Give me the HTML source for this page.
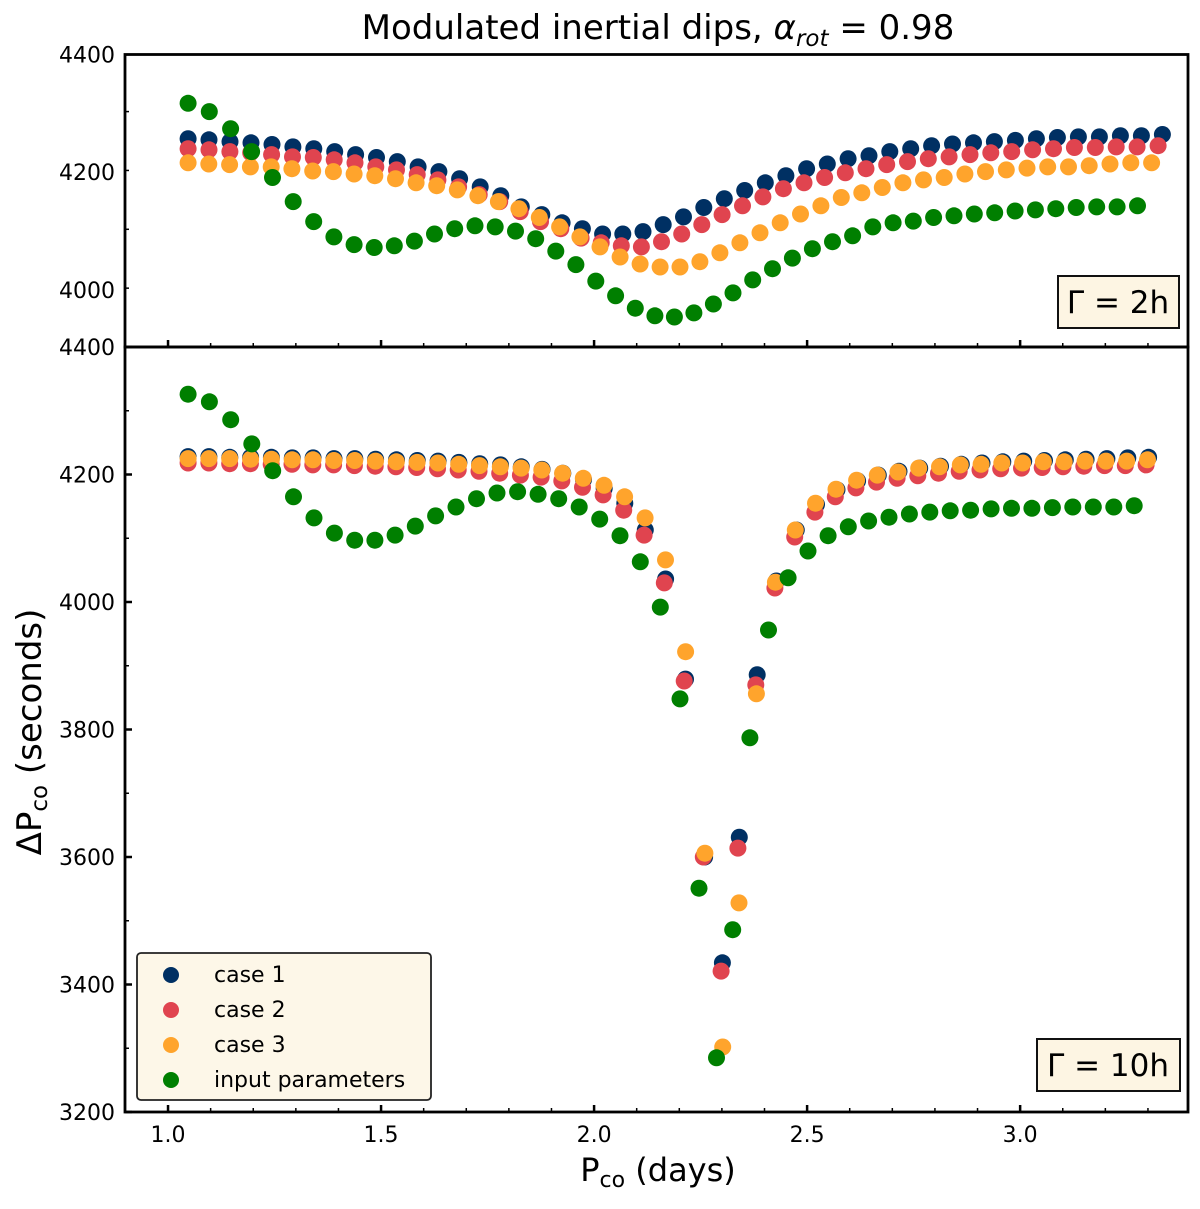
<!DOCTYPE html>
<html><head><meta charset="utf-8"><style>
body{margin:0;background:#fff;}
svg{display:block;font-family:"DejaVu Sans","Liberation Sans",sans-serif;}
</style></head><body>
<svg id="chart" width="1200" height="1209" viewBox="0 0 1200 1209" xmlns="http://www.w3.org/2000/svg">
<text x="658" y="39" font-size="34" text-anchor="middle">Modulated inertial dips, <tspan font-style="italic">α</tspan><tspan font-style="italic" font-size="23" dy="7">rot</tspan><tspan dy="-7"> = 0.98</tspan></text>
<g id="plots"></g>
<text transform="translate(41,732) rotate(-90)" font-size="34" text-anchor="middle">ΔP<tspan font-size="23" dy="6">co</tspan><tspan dy="-6"> (seconds)</tspan></text>
<text x="658" y="1181" font-size="32" text-anchor="middle">P<tspan font-size="22" dy="6">co</tspan><tspan dy="-6"> (days)</tspan></text>
<g>
<rect x="137" y="953" width="294" height="147" rx="4" fill="#fdf7e8" stroke="#222" stroke-width="1.8"/>
<circle cx="171" cy="975" r="8" fill="#003063"/><text x="214" y="982" font-size="22">case 1</text>
<circle cx="171" cy="1010" r="8" fill="#e0444f"/><text x="214" y="1017" font-size="22">case 2</text>
<circle cx="171" cy="1045" r="8" fill="#ffa42c"/><text x="214" y="1052" font-size="22">case 3</text>
<circle cx="171" cy="1080" r="8" fill="#007f00"/><text x="214" y="1087" font-size="22">input parameters</text>
</g>
<g><rect x="1058" y="276" width="121" height="52" fill="#fdf5e3" stroke="#111" stroke-width="2"/><text x="1118" y="313" font-size="31" text-anchor="middle">Γ = 2h</text></g>
<g><rect x="1037" y="1039" width="143" height="52" fill="#fdf5e3" stroke="#111" stroke-width="2"/><text x="1108" y="1076" font-size="31" text-anchor="middle">Γ = 10h</text></g>
</svg>
<script>
const startPeriod = 1.047;
const colors = ["#003063", "#e0444f", "#ffa42c", "#007f00"];
const seriesNames = ["case-1", "case-2", "case-3", "input-parameters"];
const xTicks = [1.0, 1.5, 2.0, 2.5, 3.0];
const xTickLabels = ["1.0", "1.5", "2.0", "2.5", "3.0"];
const topYTicks = [4000, 4200, 4400];
const botYTicks = [3200, 3400, 3600, 3800, 4000, 4200, 4400];
const top_case1 = [4257,4255,4252,4250,4247,4243,4240,4235,4230,4225,4218,4209,4201,4189,4175,4160,4141,4128,4114,4104,4095,4095,4099,4111,4124,4140,4155,4169,4182,4194,4206,4214,4223,4228,4235,4240,4245,4248,4250,4252,4254,4257,4259,4260,4260,4262,4262,4264];
const top_case2 = [4240,4238,4235,4233,4230,4226,4225,4221,4216,4209,4204,4196,4187,4175,4162,4150,4133,4116,4104,4088,4080,4075,4073,4082,4095,4111,4128,4143,4158,4172,4182,4191,4199,4206,4213,4218,4223,4226,4230,4233,4235,4238,4240,4242,4242,4243,4243,4245];
const top_case3 = [4216,4214,4213,4209,4209,4206,4202,4201,4197,4194,4189,4182,4177,4170,4160,4150,4138,4123,4107,4090,4073,4056,4044,4039,4039,4048,4063,4080,4097,4114,4129,4143,4157,4165,4174,4182,4187,4191,4197,4201,4204,4207,4209,4209,4211,4214,4216,4216];
const top_input = [4317,4303,4274,4235,4191,4150,4116,4090,4077,4072,4075,4083,4095,4104,4109,4107,4100,4087,4066,4043,4015,3990,3969,3956,3954,3961,3976,3995,4017,4036,4054,4070,4082,4092,4107,4114,4117,4123,4126,4129,4131,4134,4136,4138,4140,4141,4141,4143];
const bot_case1 = [4228,4228,4227,4227,4227,4226,4226,4225,4225,4224,4223,4222,4221,4219,4217,4215,4212,4208,4202,4192,4178,4155,4113,4036,3879,3600,3434,3631,3886,4033,4113,4153,4176,4190,4199,4205,4210,4213,4216,4218,4220,4221,4222,4223,4224,4225,4226,4227];
const bot_case2 = [4218,4218,4217,4217,4216,4216,4215,4215,4214,4213,4212,4211,4209,4207,4205,4202,4199,4196,4190,4180,4168,4144,4105,4030,3876,3600,3421,3614,3870,4022,4102,4141,4165,4179,4188,4194,4198,4202,4205,4207,4209,4210,4211,4212,4213,4214,4214,4215];
const bot_case3 = [4225,4225,4225,4224,4224,4223,4223,4222,4222,4221,4220,4219,4218,4216,4214,4212,4210,4207,4202,4194,4183,4165,4132,4066,3922,3606,3302,3528,3856,4031,4113,4155,4177,4191,4199,4204,4210,4212,4215,4216,4218,4218,4220,4220,4221,4221,4221,4223];
const bot_input = [4326,4314,4286,4248,4206,4165,4132,4108,4097,4097,4105,4119,4135,4149,4162,4171,4173,4169,4162,4149,4130,4104,4063,3992,3848,3551,3285,3486,3787,3956,4038,4080,4104,4118,4127,4133,4138,4141,4143,4144,4146,4147,4147,4148,4149,4149,4149,4151];

const NS = "http://www.w3.org/2000/svg";
const root = document.getElementById("plots");
const X0 = 125, X1 = 1188;
const xMin = 0.899, xMax = 3.394;
function xs(v){ return X0 + (v - xMin) / (xMax - xMin) * (X1 - X0); }
function mk(tag, attrs, parent){ const e = document.createElementNS(NS, tag); for (const k in attrs) e.setAttribute(k, attrs[k]); parent.appendChild(e); return e; }

function drawPanel(name, yTop, yBot, vMin, vMax, ticks, series){
  const g = mk("g", {}, root);
  
  
  const ys = v => yBot - (v - vMin) / (vMax - vMin) * (yBot - yTop);
  series.forEach((vals, si) => {
    const sg = mk("g", {fill: colors[si]}, g);
    
    
    let p = startPeriod;
    vals.forEach(v => {
      const c = mk("circle", {cx: xs(p).toFixed(1), cy: ys(v).toFixed(1), r: 8.5}, sg);
      
      
      p += v / 86400;
    });
  });
  for (let t = 10; t <= 33; t++) {
    const v = t / 10, x = xs(v), major = (t % 5 === 0);
    const tk = mk("line", {x1: x, x2: x, y1: yBot, y2: yBot - (major ? 7 : 4), stroke: "#000", "stroke-width": major ? 2.5 : 1.5}, g);
    
    
  }
  const step = 100;
  for (let v = vMin; v <= vMax; v += step) {
    const y = ys(v), major = ticks.includes(v);
    const tk = mk("line", {x1: X0, x2: X0 + (major ? 7 : 4), y1: y, y2: y, stroke: "#000", "stroke-width": major ? 2.5 : 1.5}, g);
    
    
  }
  ticks.forEach(v => {
    const lb = mk("text", {x: 115, y: ys(v) + 8, "font-size": 22, "text-anchor": "end"}, g);
    lb.textContent = v;
    
    
  });
  const fr = mk("rect", {x: X0, y: yTop, width: X1 - X0, height: yBot - yTop, fill: "none", stroke: "#000", "stroke-width": 2.8}, g);
  
  
}
drawPanel("top-panel", 54.5, 347, 3903, 4400, topYTicks, [top_case1, top_case2, top_case3, top_input]);
drawPanel("bottom-panel", 347, 1112, 3200, 4400, botYTicks, [bot_case1, bot_case2, bot_case3, bot_input]);
xTicks.forEach((v, i) => {
  const lb = mk("text", {x: xs(v), y: 1142, "font-size": 22, "text-anchor": "middle"}, root);
  lb.textContent = xTickLabels[i];
  
  
});
</script>
</body></html>
